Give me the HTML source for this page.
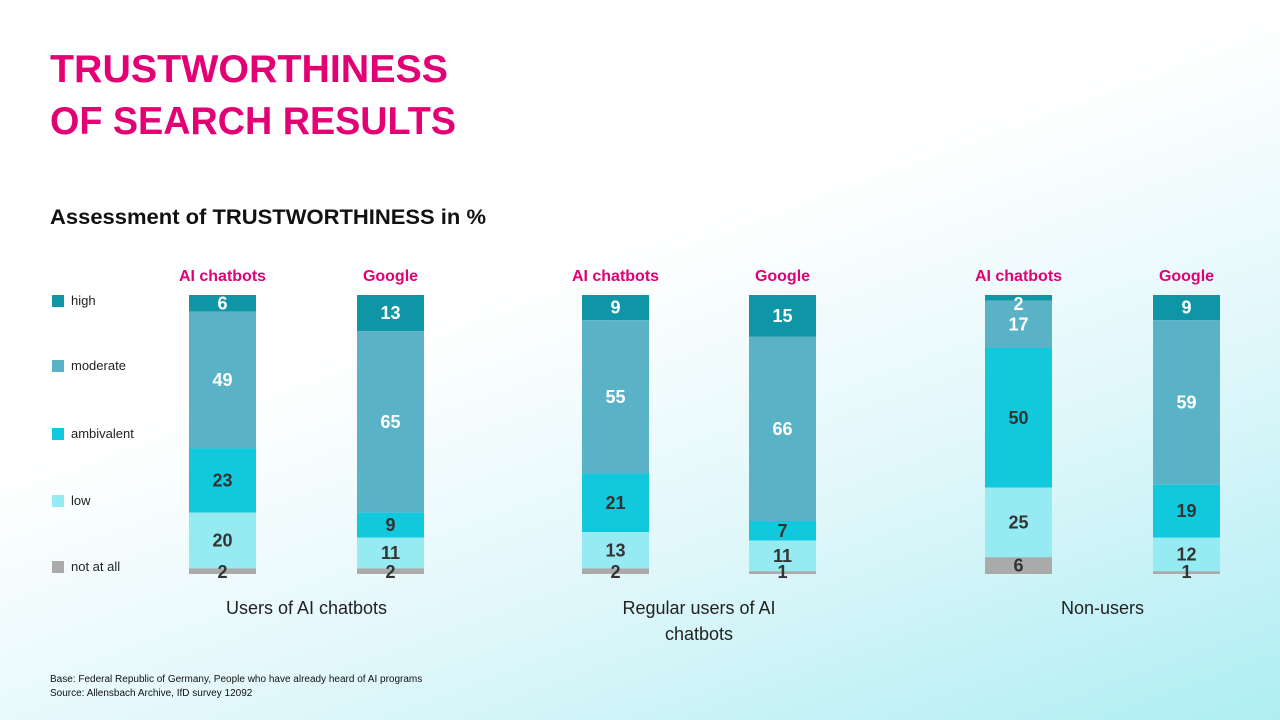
<!DOCTYPE html>
<html><head><meta charset="utf-8"><style>
body{margin:0;width:1280px;height:720px;overflow:hidden;font-family:"Liberation Sans",sans-serif;}
#bg{position:absolute;left:0;top:0;width:1280px;height:720px;background:linear-gradient(160deg,#ffffff 0%,#ffffff 40%,#e4f8fb 65%,#aeeef3 100%);}
svg{position:absolute;left:0;top:0}
</style></head><body>
<div id="bg"></div>
<svg id="chart" width="1280" height="720">
<text x="50" y="82" font-size="39" font-weight="bold" fill="#e20074" textLength="398" lengthAdjust="spacingAndGlyphs">TRUSTWORTHINESS</text>
<text x="50" y="134" font-size="39" font-weight="bold" fill="#e20074" textLength="406" lengthAdjust="spacingAndGlyphs">OF SEARCH RESULTS</text>
<text x="50" y="224" font-size="21" font-weight="bold" fill="#111" textLength="436" lengthAdjust="spacingAndGlyphs">Assessment of TRUSTWORTHINESS in %</text>
<text x="50" y="682" font-size="10" fill="#111">Base: Federal Republic of Germany, People who have already heard of AI programs</text>
<text x="50" y="696" font-size="10" fill="#111">Source: Allensbach Archive, IfD survey 12092</text>
<g id="legend"></g><g id="bars"></g><g id="labels"></g>
</svg>
<script>
const categories=["high","moderate","ambivalent","low","not at all"];
const barNames=["AI chatbots","Google","AI chatbots","Google","AI chatbots","Google"];
const groupNames=["Users of AI chatbots","Regular users of AI|chatbots","Non-users"];
const high=[6,13,9,15,2,9];
const moderate=[49,65,55,66,17,59];
const ambivalent=[23,9,21,7,50,19];
const low=[20,11,13,11,25,12];
const notAtAll=[2,2,2,1,6,1];
const series=[high,moderate,ambivalent,low,notAtAll];
const colors=["#0f96a6","#5ab2c6","#12c8dc","#96ebf2","#aaaaaa"];
const textCol=["#fff","#fff","#333","#333","#333"];
const NS="http://www.w3.org/2000/svg";
const barX=[189,357,582,749,985,1153], barW=67, y0=295, y1=574;
const bars=document.getElementById('bars');
const labels=document.getElementById('labels');
function mk(t,a,p){const e=document.createElementNS(NS,t);for(const k in a)e.setAttribute(k,a[k]);p.appendChild(e);return e;}
barNames.forEach((n,i)=>{
  const t=mk('text',{x:barX[i]+barW/2,y:281,'font-size':16,'font-weight':'bold',fill:'#e20074','text-anchor':'middle'},bars);
  t.textContent=n;
  
  
  const tot=series.reduce((s,a)=>s+a[i],0);
  let y=y0;
  series.forEach((arr,k)=>{
    const h=arr[i]*(y1-y0)/tot;
    const r=mk('rect',{x:barX[i],y:y,width:barW,height:h,fill:colors[k]},bars);
    
    
    let cy=y+h/2; if(k==0&&h<14)cy=y+9; if(k==4&&h<14)cy=y1-2;
    const l=mk('text',{x:barX[i]+barW/2,y:cy,'font-size':18,'font-weight':'bold',fill:textCol[k],'text-anchor':'middle','dominant-baseline':'central'},labels);
    l.textContent=arr[i];
    
    
    y+=h;
  });
});
groupNames.forEach((g,j)=>{
  const cx=(barX[2*j]+barX[2*j+1]+barW)/2;
  g.split('|').forEach((line,m)=>{
    const t=mk('text',{x:cx,y:614+m*26,'font-size':18,fill:'#222','text-anchor':'middle'},bars);
    t.textContent=line;
    
    
  });
});
const lg=document.getElementById('legend');
const legY=[301,366,434,501,567];
categories.forEach((c,k)=>{
  const r=mk('rect',{x:52,y:legY[k]-6,width:12,height:12,fill:colors[k]},lg);
  
  
  const t=mk('text',{x:71,y:legY[k]+4,'font-size':13,fill:'#222'},lg);
  t.textContent=c;
  
  
});
</script>
</body></html>
